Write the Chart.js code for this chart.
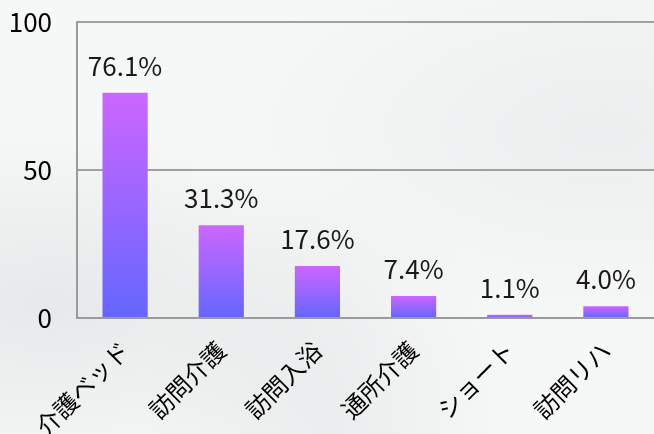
<!DOCTYPE html>
<html>
<head>
<meta charset="utf-8">
<script src="https://cdn.jsdelivr.net/npm/chart.js@4/dist/chart.umd.min.js"></script>
<style>
  html, body { margin: 0; padding: 0; }
  body {
    width: 654px; height: 434px; overflow: hidden;
    background:
      radial-gradient(ellipse at 8% 70%, rgba(200,205,208,0.35), transparent 40%),
      radial-gradient(ellipse at 92% 30%, rgba(215,218,220,0.3), transparent 45%),
      radial-gradient(ellipse at 50% 95%, rgba(210,212,215,0.3), transparent 40%),
      #f6f7f7;
  }
  #chart { display: block; }
</style>
</head>
<body>
<canvas id="chart" width="654" height="434"></canvas>
<script>
const categories = ['介護ベッド', '訪問介護', '訪問入浴', '通所介護', 'ショート', '訪問リハ'];
const values = [76.1, 31.3, 17.6, 7.4, 1.1, 4.0];
const yTicks = [0, 50, 100];

const FONT = "'Noto Sans CJK JP', 'Noto Sans', sans-serif";

// draws "xx.x%" above each bar
const valueLabels = {
  id: 'valueLabels',
  afterDatasetsDraw(chart) {
    const ctx = chart.ctx;
    const meta = chart.getDatasetMeta(0);
    ctx.save();
    ctx.font = '26px ' + FONT;
    ctx.fillStyle = '#1a1a1a';
    ctx.textAlign = 'center';
    ctx.textBaseline = 'alphabetic';
    meta.data.forEach((bar, i) => {
      ctx.fillText(values[i].toFixed(1) + '%', bar.x, bar.y - 17);
    });
    ctx.restore();
  }
};

function barGradient(c) {
  const chart = c.chart;
  if (!chart.chartArea || c.raw === undefined) return '#9966ff';
  const y = chart.scales.y;
  const top = y.getPixelForValue(c.raw);
  const base = y.getPixelForValue(0);
  const g = chart.ctx.createLinearGradient(0, top, 0, base);
  g.addColorStop(0, '#cc66ff');
  g.addColorStop(1, '#6466ff');
  return g;
}

new Chart(document.getElementById('chart'), {
  type: 'bar',
  data: {
    labels: categories,
    datasets: [{
      data: values,
      backgroundColor: barGradient,
      barPercentage: 0.47,
      categoryPercentage: 1.0
    }]
  },
  options: {
    responsive: false,
    animation: false,
    layout: { autoPadding: false, padding: { top: 22 } },
    plugins: { legend: { display: false }, tooltip: { enabled: false } },
    scales: {
      x: {
        grid: { display: false, drawTicks: false },
        border: { color: '#9a9a9a', width: 2 },
        ticks: {
          autoSkip: false,
          maxRotation: 45,
          minRotation: 45,
          padding: 18,
          color: '#000',
          font: { family: FONT, size: 24 }
        },
        afterFit: s => { s.height = 116; }
      },
      y: {
        min: 0,
        max: 100,
        afterBuildTicks: s => { s.ticks = yTicks.map(v => ({ value: v })); },
        grid: { color: '#a0a0a0', lineWidth: 2, drawTicks: false },
        border: { color: '#9a9a9a', width: 2 },
        ticks: {
          padding: 25,
          color: '#000',
          font: { family: FONT, size: 26 }
        },
        // fixed axis width; drop the label half-height padding so 100 sits at y=22
        afterFit: s => { s.width = 77; s.paddingTop = 4; s.paddingBottom = 0; }
      }
    }
  },
  plugins: [valueLabels]
});
</script>
</body>
</html>
